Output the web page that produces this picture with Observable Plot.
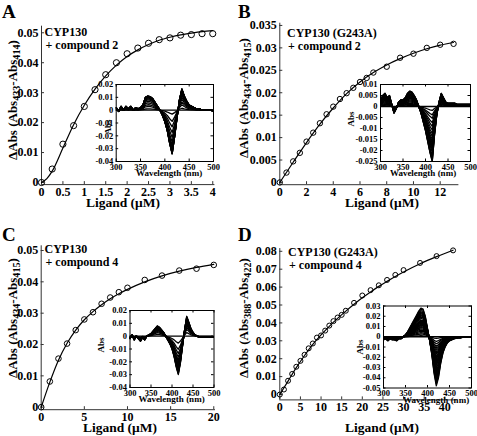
<!DOCTYPE html>
<html><head><meta charset="utf-8">
<script src="https://cdn.jsdelivr.net/npm/d3@7"></script>
<script src="https://cdn.jsdelivr.net/npm/@observablehq/plot@0.6"></script>
<style>
body{margin:0;background:#fff;}
#root{position:relative;width:477px;height:436px;overflow:hidden;}
#root svg{position:absolute;left:0;top:0;}
</style></head><body><div id="root"></div>
<script>
// ---------- main titration data ----------
const xA = [0,0.25,0.5,0.75,1,1.25,1.5,1.75,2,2.25,2.5,2.75,3,3.25,3.5,3.75,4];
const yA = [0,0.0045,0.0128,0.0190,0.0254,0.0310,0.0360,0.0400,0.0430,0.0449,0.0465,0.0477,0.0483,0.0492,0.0494,0.0497,0.0497];
const fitXA = [0,0.125,0.25,0.5,0.75,1,1.25,1.5,1.75,2,2.25,2.5,2.75,3,3.25,3.5,3.75,4];
const fitYA = [0,0.0013,0.0038,0.0115,0.0193,0.0258,0.0312,0.0356,0.0392,0.0421,0.0443,0.0461,0.0475,0.0485,0.0493,0.0499,0.0504,0.0507];

const xB = [0,0.5,1,1.5,2,2.5,3,3.5,4,4.5,5,5.5,6,6.5,7,8,9,10,11,12,13];
const yB = [0,0.0022,0.0047,0.0066,0.0091,0.0111,0.0132,0.0152,0.0169,0.0186,0.0199,0.0211,0.0224,0.0233,0.0245,0.0258,0.0278,0.0287,0.0300,0.0307,0.0309];
const fitXB = [0,1,2,3,4,5,6,7,8,9,10,11,12,13];
const fitYB = [0,0.0045,0.0089,0.0130,0.0166,0.0198,0.0224,0.0245,0.0262,0.0276,0.0288,0.0298,0.0306,0.0312];

const xC = [0,1,2,3,4,5,6,7,8,9,10,12,14,16,18,20];
const yC = [0,0.0082,0.0155,0.0203,0.0246,0.0280,0.0303,0.0330,0.0350,0.0367,0.0381,0.0406,0.0420,0.0436,0.0442,0.0454];
const fitXC = [0,1,2,3,4,5,6,7,8,9,10,12,14,16,18,20];
const fitYC = [0,0.0080,0.0150,0.0204,0.0246,0.0279,0.0305,0.0327,0.0346,0.0362,0.0376,0.0400,0.0419,0.0434,0.0446,0.0456];

const xD = [0,1,2,3,4,5,6,7,8,9,10,11,12,13,14,15,16,18,20,22,24,26,28,30,34,38,42];
const yD = [0,0.0028,0.0077,0.0115,0.0155,0.0188,0.0222,0.0258,0.0285,0.0318,0.0330,0.0357,0.0385,0.0410,0.0430,0.0445,0.0468,0.0512,0.0553,0.0583,0.0610,0.0640,0.0668,0.0695,0.0735,0.0773,0.0805];
const fitXD = [0,2,4,6,8,10,12,14,16,18,20,22,24,26,28,30,34,38,42];
const fitYD = [0,0.0075,0.0150,0.0218,0.0280,0.0333,0.0381,0.0425,0.0466,0.0504,0.0540,0.0573,0.0604,0.0632,0.0659,0.0684,0.0730,0.0770,0.0806];

// ---------- inset difference spectra (largest spectrum) ----------
const wl = [300,305,310,315,320,325,330,335,340,345,350,355,360,365,370,375,380,385,390,395,400,405,410,415,420,425,430,435,440,445,450,455,460,465,470,475,480,485,490,495,500];
const envA = [0.002,-0.001,0.003,0.000,0.003,0.001,0.003,0.000,0.002,0.001,0.002,
  0.004,0.010,0.011,0.0105,0.009,0.006,0.003,0.000,-0.004,-0.009,
  -0.016,-0.026,-0.034,-0.021,-0.006,0.008,0.0165,0.011,0.007,0.004,
  0.003,0.002,0.001,0.001,0.0005,0,0,0,0,-0.001];
const envB = [0.003,0.005,0.006,0.004,0.005,0.001,-0.003,-0.001,0.002,0.003,0.003,
  0.004,0.006,0.007,0.0065,0.005,0.003,0.000,-0.003,-0.007,-0.011,
  -0.016,-0.021,-0.025,-0.013,-0.004,0.002,0.006,0.004,0.002,0.0015,
  0.0015,0.0015,0.0015,0.001,0.001,0.001,0.001,0.001,0.001,0.001];
const envC = [-0.002,0.001,-0.003,0.000,-0.002,-0.004,-0.001,-0.003,0.000,0.001,0.002,
  0.004,0.006,0.008,0.007,0.005,0.003,0.000,-0.003,-0.006,-0.010,
  -0.016,-0.024,-0.030,-0.021,-0.008,0.005,0.0155,0.011,0.006,0.003,
  0.001,0.000,-0.001,-0.001,-0.001,-0.001,-0.001,-0.001,-0.001,-0.001];
const envD = [-0.003,-0.002,-0.004,-0.002,-0.003,-0.003,-0.004,-0.002,-0.002,0.000,0.002,
  0.005,0.009,0.013,0.017,0.021,0.025,0.028,0.027,0.020,0.008,
  -0.004,-0.018,-0.036,-0.048,-0.040,-0.026,-0.016,-0.010,-0.006,-0.004,
  -0.003,-0.002,-0.0015,-0.001,-0.001,-0.0005,0,0,0,0];

// ---------- tick labels ----------
const xTicksA = [0,0.5,1,1.5,2,2.5,3,3.5,4];
const yTicksA = [0,0.01,0.02,0.03,0.04,0.05];
const xTicksB = [0,2,4,6,8,10,12];
const yTicksB = [0,0.005,0.01,0.015,0.02,0.025,0.03,0.035];
const xTicksC = [0,5,10,15,20];
const yTicksC = [0,0.01,0.02,0.03,0.04,0.05];
const xTicksD = [0,5,10,15,20,25,30,35,40];
const yTicksD = [0,0.01,0.02,0.03,0.04,0.05,0.06,0.07,0.08];
const wlTicks = [300,350,400,450,500];
const insetTicksA = [-0.04,-0.03,-0.02,-0.01,0,0.01,0.02];
const insetTicksB = [-0.025,-0.02,-0.015,-0.01,-0.005,0,0.005,0.01];
const insetTicksC = [-0.04,-0.03,-0.02,-0.01,0,0.01,0.02];
const insetTicksD = [-0.05,-0.04,-0.03,-0.02,-0.01,0,0.01,0.02,0.03];

// ---------- texts ----------
const letters = ["A","B","C","D"];
const proteins = ["CYP130","CYP130 (G243A)","CYP130","CYP130 (G243A)"];
const compounds = ["+ compound 2","+ compound 2","+ compound 4","+ compound 4"];
const subs = [["433","414"],["434","415"],["434","415"],["388","422"]];
const xLabel = "Ligand (\u03bcM)";

const W = 477, H = 436;
const FONT = "'Liberation Serif','Times New Roman',serif";
const AX = "#333";
const root = document.getElementById("root");
const fmt = d => String(d);

function txt(svg, x, y, s, size, anchor = "start") {
  d3.select(svg).append("text").attr("x", x).attr("y", y)
    .attr("font-family", FONT).attr("font-weight", "bold").attr("font-size", size)
    .attr("text-anchor", anchor).attr("fill", "black").text(s);
}
function ylab(svg, x, y, sub, size) {
  const t = d3.select(svg).append("text")
    .attr("transform", `translate(${x},${y}) rotate(-90)`)
    .attr("font-family", FONT).attr("font-weight", "bold").attr("font-size", size)
    .attr("text-anchor", "middle").attr("fill", "black");
  t.append("tspan").text("\u0394Abs (Abs");
  t.append("tspan").attr("font-size", size * 0.78).attr("dy", 3).text(sub[0]);
  t.append("tspan").attr("dy", -3).text("-Abs");
  t.append("tspan").attr("font-size", size * 0.78).attr("dy", 3).text(sub[1]);
  t.append("tspan").attr("dy", -3).text(")");
}

function mainPanel(o) {
  const [l, r, t, b] = o.box;
  const iw = r - l, ih = b - t;
  const pts = o.x.map((x, i) => ({x, y: o.y[i]}));
  const fit = o.fx.map((x, i) => ({x, y: o.fy[i]}));
  const svg = Plot.plot({
    width: W, height: H,
    marginLeft: l, marginRight: W - r, marginTop: t, marginBottom: H - b,
    style: {background: "transparent", overflow: "visible", fontFamily: FONT, fontWeight: "bold", fontSize: "12px", color: "black"},
    x: {domain: o.xDomain},
    y: {domain: o.yDomain},
    marks: [
      Plot.ruleY([o.yDomain[0]], {stroke: AX, strokeWidth: 1}),
      Plot.ruleX([o.xDomain[0]], {stroke: AX, strokeWidth: 1}),
      Plot.tickX(o.xTicks, {x: d => d, insetTop: ih - 3, stroke: AX}),
      Plot.tickY(o.yTicks, {y: d => d, insetRight: iw - 3, stroke: AX}),
      Plot.axisX(o.xTicks, {tickSize: 0, tickPadding: 3, label: null, tickFormat: fmt}),
      Plot.axisY(o.yTicks, {tickSize: 0, tickPadding: 3, label: null, tickFormat: fmt}),
      Plot.line(fit, {x: "x", y: "y", curve: "monotone-x", stroke: "black", strokeWidth: 1.2}),
      Plot.dot(pts, {x: "x", y: "y", r: o.r, stroke: "black", fill: "none", strokeWidth: 1})
    ]
  });
  root.appendChild(svg);
  txt(svg, o.letter[0], o.letter[1], letters[o.i], 19);
  txt(svg, o.ann[0], o.ann[1], proteins[o.i], 12);
  txt(svg, o.ann[0] + 1, o.ann[1] + 13, compounds[o.i], 12);
  txt(svg, o.xl[0], o.xl[1], xLabel, 13.5, "middle");
  ylab(svg, o.yl[0], o.yl[1], subs[o.i], 13);
}

function insetPanel(o) {
  const [l, r, t, b] = o.box;
  const iw = r - l, ih = b - t;
  const maxY = d3.max(o.titration);
  const curves = o.titration.flatMap((v, k) => wl.map((w, j) => ({w, a: o.env[j] * v / maxY, k})));
  const svg = Plot.plot({
    width: W, height: H,
    marginLeft: l, marginRight: W - r, marginTop: t, marginBottom: H - b,
    style: {background: "transparent", overflow: "visible", fontFamily: FONT, fontWeight: "bold", fontSize: "8.5px", color: "black"},
    x: {domain: [300, 500]},
    y: {domain: o.yDomain},
    marks: [
      Plot.frame({fill: "white", stroke: "none"}),
      Plot.line(curves, {x: "w", y: "a", z: "k", stroke: "black", strokeWidth: 1.3, clip: true}),
      Plot.frame({stroke: "black", strokeWidth: 1}),
      Plot.tickX(wlTicks, {x: d => d, insetTop: ih - 2.5, stroke: "black"}),
      Plot.tickX(wlTicks, {x: d => d, insetBottom: ih - 2.5, stroke: "black"}),
      Plot.tickY(o.yTicks, {y: d => d, insetRight: iw - 2.5, stroke: "black"}),
      Plot.tickY(o.yTicks, {y: d => d, insetLeft: iw - 2.5, stroke: "black"}),
      Plot.axisX(wlTicks, {tickSize: 0, tickPadding: 2, label: null, tickFormat: fmt}),
      Plot.axisY(o.yTicks, {tickSize: 0, tickPadding: 3, label: null, tickFormat: fmt})
    ]
  });
  root.appendChild(svg);
  txt(svg, o.wlab[0], o.wlab[1], "Wavelength (nm)", 9, "middle");
  d3.select(svg).append("text")
    .attr("transform", `translate(${o.alab[0]},${o.alab[1]}) rotate(-90)`)
    .attr("font-family", FONT).attr("font-weight", "bold").attr("font-size", 9)
    .attr("text-anchor", "middle").attr("fill", "black").text("Abs");
}

mainPanel({i: 0, box: [41, 214.4, 25.7, 184.1], xDomain: [0, 4.05], yDomain: [-0.0007, 0.0522],
  x: xA, y: yA, fx: fitXA, fy: fitYA, xTicks: xTicksA, yTicks: yTicksA, r: 3.1,
  letter: [2, 17.5], ann: [44.5, 36], xl: [123, 207], yl: [17, 100]});
mainPanel({i: 1, box: [279.3, 458.4, 22.7, 184.2], xDomain: [0, 13.4], yDomain: [-0.0005, 0.0355],
  x: xB, y: yB, fx: fitXB, fy: fitYB, xTicks: xTicksB, yTicks: yTicksB, r: 2.7,
  letter: [238, 17.5], ann: [287, 37], xl: [382, 207], yl: [248, 98]});
mainPanel({i: 2, box: [40.7, 215, 245.3, 409.2], xDomain: [0, 20.2], yDomain: [-0.0008, 0.0515],
  x: xC, y: yC, fx: fitXC, fy: fitYC, xTicks: xTicksC, yTicks: yTicksC, r: 2.8,
  letter: [2, 241], ann: [44.5, 253], xl: [120, 432], yl: [17, 318]});
mainPanel({i: 3, box: [279.3, 456.7, 248.1, 399.4], xDomain: [0, 43], yDomain: [-0.003, 0.0815],
  x: xD, y: yD, fx: fitXD, fy: fitYD, xTicks: xTicksD, yTicks: yTicksD, r: 2.5,
  letter: [238, 241], ann: [288, 256], xl: [382, 432], yl: [248, 318]});

insetPanel({box: [115.7, 213, 84, 161], yDomain: [-0.04, 0.02], yTicks: insetTicksA, env: envA, titration: yA,
  wlab: [169, 176], alab: [111, 127]});
insetPanel({box: [380, 470, 84, 161], yDomain: [-0.025, 0.01], yTicks: insetTicksB, env: envB, titration: yB,
  wlab: [423, 176], alab: [354, 119]});
insetPanel({box: [129.5, 213.5, 310, 387], yDomain: [-0.04, 0.02], yTicks: insetTicksC, env: envC, titration: yC,
  wlab: [171.5, 402], alab: [104, 345]});
insetPanel({box: [383, 471, 305.5, 387.5], yDomain: [-0.05, 0.03], yTicks: insetTicksD, env: envD, titration: yD,
  wlab: [436, 403], alab: [363, 347]});
</script></body></html>
